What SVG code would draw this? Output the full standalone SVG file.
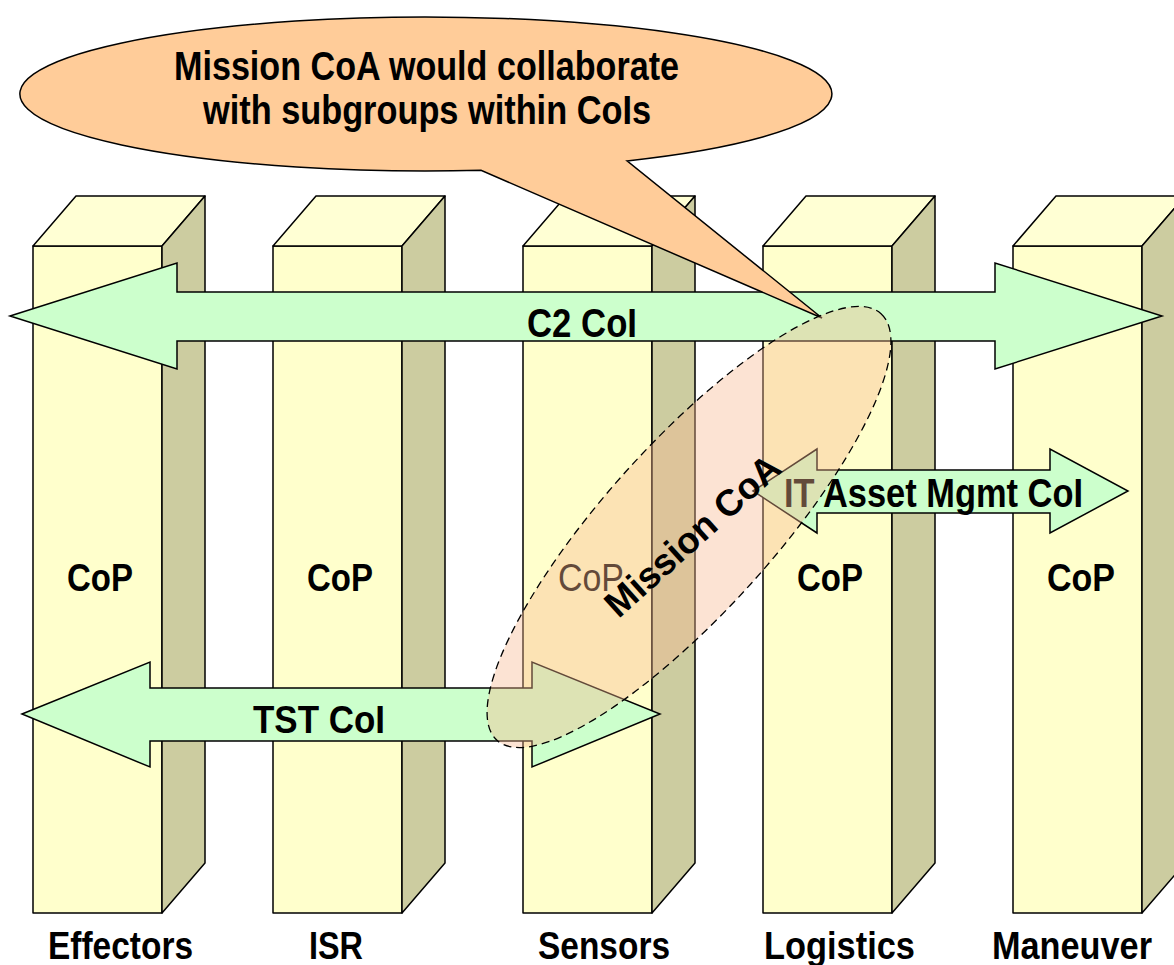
<svg xmlns="http://www.w3.org/2000/svg" width="1174" height="965" viewBox="0 0 1174 965">
<style>
.front{fill:#FFFFCC;stroke:#000;stroke-width:1.5;stroke-linejoin:round}
.top{fill:#FFFFD4;stroke:#000;stroke-width:1.5;stroke-linejoin:round}
.side{fill:#CCCCA0;stroke:#000;stroke-width:1.5;stroke-linejoin:round}
.arrow{fill:#CCFFCC;stroke:#000;stroke-width:1.5;stroke-linejoin:miter}
.lbl{font-family:"Liberation Sans",Arial,sans-serif;font-weight:bold;fill:#000}
</style>
<rect width="1174" height="965" fill="#fff"/>

<g id="pillar-effectors">
<rect class="front" x="33" y="246" width="129" height="667"/>
<polygon class="top" points="33,246 76,196 205,196 162,246"/>
<polygon class="side" points="162,246 205,196 205,863 162,913"/>
<text class="lbl" x="67" y="591" font-size="39" textLength="66" lengthAdjust="spacingAndGlyphs">CoP</text>
<text class="lbl" x="48" y="959" font-size="39" textLength="145" lengthAdjust="spacingAndGlyphs">Effectors</text>
</g>
<g id="pillar-isr">
<rect class="front" x="273" y="246" width="129" height="667"/>
<polygon class="top" points="273,246 316,196 445,196 402,246"/>
<polygon class="side" points="402,246 445,196 445,863 402,913"/>
<text class="lbl" x="307" y="591" font-size="39" textLength="66" lengthAdjust="spacingAndGlyphs">CoP</text>
<text class="lbl" x="309" y="959" font-size="39" textLength="54" lengthAdjust="spacingAndGlyphs">ISR</text>
</g>
<g id="pillar-sensors">
<rect class="front" x="523" y="246" width="129" height="667"/>
<polygon class="top" points="523,246 566,196 695,196 652,246"/>
<polygon class="side" points="652,246 695,196 695,863 652,913"/>
<text x="558" y="591" font-size="39" textLength="66" lengthAdjust="spacingAndGlyphs" font-family="Liberation Sans, Arial, sans-serif" fill="#000">CoP</text>
<text class="lbl" x="538" y="959" font-size="39" textLength="132" lengthAdjust="spacingAndGlyphs">Sensors</text>
</g>
<g id="pillar-logistics">
<rect class="front" x="763" y="246" width="129" height="667"/>
<polygon class="top" points="763,246 806,196 935,196 892,246"/>
<polygon class="side" points="892,246 935,196 935,863 892,913"/>
<text class="lbl" x="797" y="591" font-size="39" textLength="66" lengthAdjust="spacingAndGlyphs">CoP</text>
<text class="lbl" x="764" y="959" font-size="39" textLength="151" lengthAdjust="spacingAndGlyphs">Logistics</text>
</g>
<g id="pillar-maneuver">
<rect class="front" x="1013" y="246" width="129" height="667"/>
<polygon class="top" points="1013,246 1056,196 1185,196 1142,246"/>
<polygon class="side" points="1142,246 1185,196 1185,863 1142,913"/>
<text class="lbl" x="1047" y="591" font-size="39" textLength="68" lengthAdjust="spacingAndGlyphs">CoP</text>
<text class="lbl" x="992" y="959" font-size="39" textLength="160" lengthAdjust="spacingAndGlyphs">Maneuver</text>
</g>

<g id="connectors">
<g id="c2-coi">
<polygon class="arrow" points="10,316 177,263 177,292 995,292 995,263 1162,316 995,369 995,341 177,341 177,369"/>
<text class="lbl" x="527" y="337" font-size="40" textLength="110" lengthAdjust="spacingAndGlyphs">C2 CoI</text>
</g>
<g id="it-asset-mgmt-coi">
<polygon class="arrow" points="753,491 817,449 817,470 1050,470 1050,449 1128,491 1050,533 1050,513 817,513 817,533"/>
<text class="lbl" x="784" y="507" font-size="40" textLength="299" lengthAdjust="spacingAndGlyphs">IT Asset Mgmt CoI</text>
</g>
<g id="tst-coi">
<polygon class="arrow" points="22,714 150,662 150,688 532,688 532,662 660,714 532,767 532,741 150,741 150,767"/>
<text class="lbl" x="253" y="733" font-size="38" textLength="132" lengthAdjust="spacingAndGlyphs">TST CoI</text>
</g>
</g>

<g id="callout">
<path d="M 481,170.3 A 406 77 0 1 1 627,160.9 L 822,318 Z" fill="#FFCC99" stroke="#000" stroke-width="1.5" stroke-linejoin="miter"/>
<text class="lbl" x="174" y="80" font-size="40" textLength="505" lengthAdjust="spacingAndGlyphs">Mission CoA would collaborate</text>
<text class="lbl" x="203" y="124" font-size="40" textLength="448" lengthAdjust="spacingAndGlyphs">with subgroups within CoIs</text>
</g>

<g id="mission-coa">
<ellipse cx="689" cy="527" rx="287" ry="84" transform="rotate(-48 689 527)" fill="#F8B890" fill-opacity="0.4" stroke="#000" stroke-width="1.3" stroke-dasharray="8 5"/>
<text class="lbl" x="701" y="545" font-size="37" text-anchor="middle" textLength="222" lengthAdjust="spacingAndGlyphs" transform="rotate(-42 701 545)">Mission CoA</text>
</g>
</svg>
